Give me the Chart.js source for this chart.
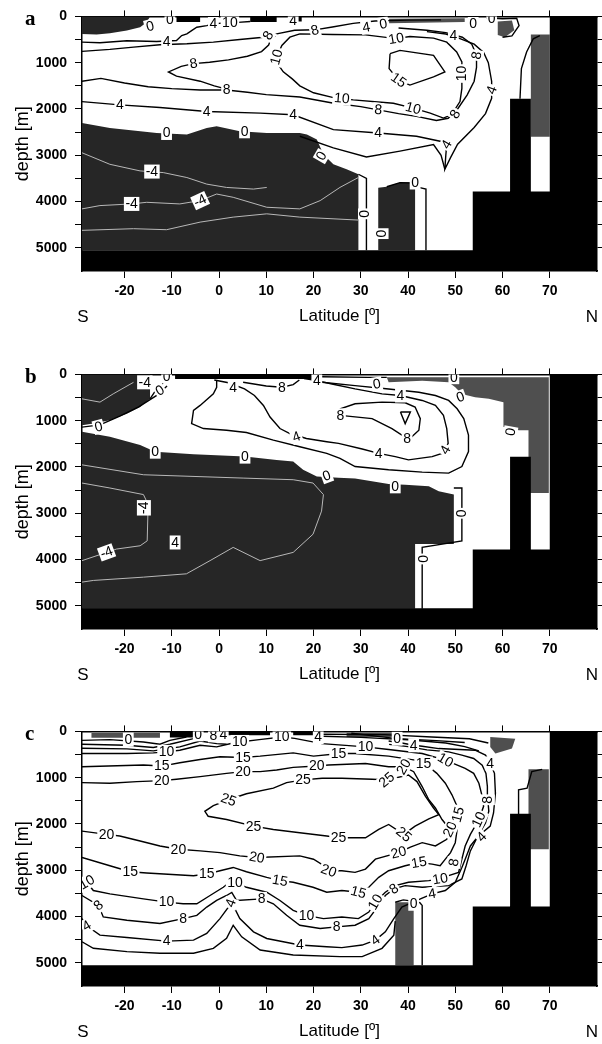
<!DOCTYPE html>
<html>
<head>
<meta charset="utf-8">
<script src="https://cdn.jsdelivr.net/npm/chart.js@4.4.1/dist/chart.umd.min.js"></script>
<style>
  html, body { margin: 0; padding: 0; background: #fff; width: 602px; height: 1044px; overflow: hidden; }
  .panel { position: absolute; left: 0; width: 602px; height: 358px; }
</style>
</head>
<body>
<div class="panel" style="top:0px"><canvas id="chartA" width="602" height="358"></canvas></div>
<div class="panel" style="top:358px"><canvas id="chartB" width="602" height="358"></canvas></div>
<div class="panel" style="top:715px"><canvas id="chartC" width="602" height="358"></canvas></div>
<script>
// axes
const latTicks = [-20, -10, 0, 10, 20, 30, 40, 50, 60, 70];
const depthTicks = [0, 500, 1000, 1500, 2000, 2500, 3000, 3500, 4000, 4500, 5000];
const latRange = [-29, 80];
const depthRange = [0, 5500];

// sea floor / land, [lat, depth]
const seaFloor = [[-29,5050],[53.7,5050],[53.7,3780],[61.6,3780],[61.6,1780],[66,1780],[66,3780],[70,3780],[70,0],[80,0],[80,5500],[-29,5500]];

// ---------- panel a ----------
const aDark = [
  [[-29,0],[-14.6,0],[-15.3,128],[-16.7,235],[-19.5,306],[-23.1,363],[-25.9,392],[-29,378]],
  [[-29,2303],[-23.1,2410],[-13.2,2518],[-6.8,2553],[-2.6,2410],[-0.5,2375],[4.4,2482],[10.1,2518],[17.1,2518],[18.6,2553],[20.7,2660],[22.1,2981],[24.2,3195],[27,3302],[29.5,3410],[29.5,5050],[-29,5050]],
  [[33.7,3700],[35.5,3680],[38.3,3590],[41.5,3590],[41.5,5050],[33.7,5050]]
];
const aMid = [
  [[66,390],[70,390],[70,2600],[66,2600]],
  [[59,110],[62,90],[62.5,300],[60.5,450],[59,400]],
  [[36,50],[52,40],[52,120],[36,150]]
];
const aBars = [
  [[-9,0],[-4,0],[-4,120],[-9,120]],
  [[6.6,0],[12.2,0],[12.2,120],[6.6,120]],
  [[15.7,0],[17.5,0],[17.5,110],[15.7,110]]
];
const aLines = [
  [[-29,556],[-25.2,570],[-19.5,527],[-13.2,542],[-9,520],[-7.9,413],[-6.8,378],[-5.8,306],[-4.7,235],[-2.6,200],[-1.2,164],[1,140],[4,128],[6.6,110]],
  [[-29,756],[-23.1,713],[-18.1,663],[-12.5,613],[-6.8,592],[-1.2,556],[4.4,499],[9.4,449],[12.2,378],[16,300],[20.3,290],[24,230],[28.4,150],[33,100],[40,80],[47,75]],
  [[12,420],[11,480],[10.5,620],[9,760],[6,860],[2,940],[-2,990],[-5.4,1020],[-8,1080],[-10.7,1200],[-9,1290],[-4,1400],[-1,1500],[1.6,1570]],
  [[-29,1400],[-25,1340],[-20,1440],[-15,1520],[-10,1560],[-4,1590],[1.6,1590],[6,1640],[10,1690],[17.1,1740],[24,1870],[30,1950],[33.7,2018],[38,2100],[41.8,2160],[46,2250],[48.5,2200],[50.5,2000],[52.5,1700],[54,1400],[54.5,1100],[54.5,841],[53.5,600],[51.5,450],[48,350],[44,300],[38,250]],
  [[17.1,378],[15,449],[13.3,627],[12.2,877],[12.6,1055],[13.6,1198],[15.5,1350],[17.1,1500],[20,1650],[24.2,1754],[28.4,1804],[36.9,1876],[41.1,1983],[44.7,2090],[47.5,2197],[49.2,2125],[51,1840],[51.4,1555],[51.4,1234],[51.4,984],[50.3,770],[48.2,556],[45.4,470],[40.4,435],[37.5,480],[31,400],[24,390],[17.1,378]],
  [[36.2,806],[38.3,734],[45.4,841],[47.8,1198],[45.4,1305],[40.4,1483],[38,1376],[36,1127],[36.2,806]],
  [[-29,1840],[-21,1911],[-12.5,1968],[-2.6,2054],[8.7,2090],[15.7,2125],[24.2,2446],[33.7,2518],[41.8,2589],[46.8,2696],[48.2,2767],[48,3000],[47.8,3302],[49,3050],[50.5,2760],[54,2400],[56.4,2100],[57.7,1769],[57.7,1400],[57,1000],[56,780],[54,600],[51,480],[48,380],[44,330]],
  [[17.1,2589],[24.2,2839],[31.2,3038],[38.3,2910],[45.4,2767],[47,3000],[47.8,3302]],
  [[29.5,3410],[31.2,3500],[31.2,5050]],
  [[35.5,3680],[38.3,3590],[41,3600],[42.5,3700],[43.8,3730],[43.8,5050]],
  [[63.7,1780],[64,1127],[65.1,770],[66.5,485],[67.9,413]],
  [[56.5,30],[60,50],[63,40],[63.5,200],[62,420],[60,450]]
];
const aThin = [
  [[-29,2946],[-23.1,3195],[-16.7,3338],[-11.8,3374],[-6.8,3481],[-2.6,3623],[1.6,3695],[7.3,3730],[10.1,3695]],
  [[-29,4158],[-25.2,4087],[-18.5,4051],[-15.3,4016],[-8.3,4051],[-4,3980],[-0.5,3837],[3,3908],[10.1,4123],[17.1,4158],[21.4,3980],[25.6,3694],[29.5,3480]],
  [[-29,4622],[-18.1,4586],[-11.1,4608],[-4,4444],[3,4336],[10.1,4265],[17.1,4336],[29.5,4400]]
];
const aLabels = [
  [-14.6,214,'0',-15],[-10.4,60,'0',0],[-11.1,556,'4',0],[-1.2,164,'4',0],[2.3,128,'10',0],[15.7,92,'4',0],
  [10.4,413,'8',-60],[20.3,300,'8',-15],[31.2,235,'4',-10],[34.8,164,'0',-10],[53.8,164,'0',0],[57.7,40,'0',0],
  [49.6,413,'4',0],[37.5,480,'10',-10],[-5.4,1020,'8',-10],[12.2,877,'10',-75],[38,1376,'15',35],
  [54.5,841,'8',-80],[51.4,1234,'10',-90],[57.7,1590,'4',-70],[1.6,1590,'8',0],[26,1769,'10',5],
  [33.7,2018,'8',5],[41.1,1983,'10',15],[50,2110,'8',-60],[-21,1911,'4',0],[-2.6,2054,'4',0],[15.7,2125,'4',0],
  [33.7,2518,'4',0],[48.2,2767,'4',-60],[-11.1,2518,'0',0],[5.4,2482,'0',0],[21.7,3017,'0',-60],
  [30.9,4265,'0',-90],[34.4,4693,'0',-90],[41.5,3588,'0',0],
  [-14.2,3352,'-4',0],[-18.5,4051,'-4',0],[-4,3980,'-4',-25]
];

// ---------- panel b ----------
const bDark = [
  [[-29,0],[-14.6,0],[-14.6,527],[-16.7,706],[-19.5,849],[-23.1,991],[-26.6,1063],[-29,1100]],
  [[-29,1241],[-23.1,1348],[-16.7,1526],[-13.5,1669],[-5.4,1726],[5.5,1776],[12.2,1847],[15.7,1883],[17.8,2061],[20.7,2204],[25.3,2230],[28.8,2250],[35.9,2368],[39.4,2382],[44.4,2418],[46.5,2525],[49.7,2596],[49.7,3666],[41.5,3666],[41.5,5060],[-29,5060]]
];
const bMid = [
  [[35.5,60],[69.8,60],[69.8,2561],[65.5,2561],[65.5,1205],[63.4,1205],[62,1134],[60.2,1134],[60.2,599],[57.1,528],[54.2,492],[51.4,421],[50,278],[48.6,171],[43,135],[35.9,171]]
];
const bBars = [
  [[-9.3,0],[19.9,0],[19.9,100],[-9.3,100]]
];
const bLines = [
  [[-1,120],[2,180],[5.4,314],[7.5,456],[9.4,670],[10.8,920],[12.9,1170],[15,1277],[18.5,1384],[22.8,1455],[25.3,1491],[30.3,1612],[33.8,1705],[37.3,1776],[40.1,1847],[45.1,1776],[47.2,1705],[48.5,1491],[48.2,1170],[47.5,884],[45.8,670],[43,563],[38.4,456],[34.5,421],[28.8,314],[23.9,207],[20.7,135],[18,90]],
  [[-0.5,120],[-0.5,278],[-1.2,421],[-4,670],[-5.4,777],[-5.8,1063],[-3.3,1170],[1.6,1205],[5.8,1255],[11.5,1419],[17.1,1562],[22.8,1705],[25.6,1812],[28.8,1990],[35.9,2061],[43,2111],[48.6,2133],[51.4,1990],[52.8,1669],[52.8,1312],[51.8,956],[50.4,742],[48.6,563],[45.8,456],[42.3,385],[35.9,314],[28.8,242],[21.8,171]],
  [[25.7,884],[32.4,956],[36.6,1170],[38.7,1312],[40.8,1348],[42.3,1205],[42.6,956],[41.5,706],[39.4,613],[34.5,599],[28.8,634],[25.7,742],[25.7,884]],
  [[5.1,170],[10,250],[13.3,278],[15.7,220],[17,120]],
  [[38.4,813],[40.5,813],[39.4,1063],[38.4,813]],
  [[49.7,2454],[51.4,2454],[51.4,3595],[43,3737],[43,5060]],
  [[21.8,50],[31.5,64],[35.5,64]],
  [[-14.6,527],[-13.2,314],[-12,200],[-11,60]],
  [[-11,250],[-13.1,449],[-17,700],[-21,900],[-25.2,1091],[-29,1140]]
];
const bThin = [
  [[-29,1954],[-16,2168],[5.1,2240],[15.7,2275],[19.9,2347],[22.1,2596],[21.7,2953],[19.9,3452],[15.7,3845],[8.7,4023],[3,3737],[-1.9,4023],[-6.9,4308],[-16,4380],[-26.6,4451],[-29,4487]],
  [[-29,2347],[-23.1,2454],[-16,2596],[-15,2810],[-15.2,3595],[-16.7,3702],[-21.7,3773],[-29,4023]],
  [[-29,528],[-25.2,599],[-22.4,421],[-18.1,171]]
];
const bLabels = [
  [-15.7,171,'-4',0],[-11.1,40,'0',0],[-12.5,349,'0',-30],[-25.5,1134,'0',-15],[-13.5,1669,'0',0],[5.5,1776,'0',0],
  [22.8,2190,'0',-20],[37.3,2418,'0',0],[51.4,3000,'0',-90],[43.3,3987,'0',-90],
  [-15.9,2882,'-4',-90],[-23.8,3845,'-4',-20],[-9.3,3631,'4',0],
  [3,278,'4',0],[13.3,278,'8',0],[20.7,135,'4',0],[16.4,1348,'4',-20],[33.8,1705,'4',0],
  [25.7,884,'8',0],[39.8,1384,'8',0],[47.9,1633,'4',-60],[38.4,456,'4',0],
  [33.4,207,'0',-10],[51.1,492,'0',-20],[49.7,60,'0',0],[61.7,1241,'0',-80]
];

// ---------- panel c ----------
const cDark = [];
const cMid = [
  [[-27,35],[-12.5,35],[-12.5,135],[-27,135]],
  [[27,30],[37,30],[37,120],[27,120]],
  [[57.4,121],[62.7,157],[62,371],[58.5,478],[57.4,335]],
  [[65.5,820],[69.8,820],[69.8,2547],[65.5,2547]],
  [[37.3,3690],[41.2,3690],[41.2,5050],[37.3,5050]]
];
const cBars = [
  [[-10.4,0],[-5.4,0],[-5.4,130],[-10.4,130]],
  [[-0.5,0],[10.8,0],[10.8,85],[-0.5,85]],
  [[15.7,0],[19.9,0],[19.9,85],[15.7,85]]
];
const cLines = [
  [[-29,193],[-23.1,178],[-16,228],[-12.5,278],[-10.4,193],[-6.9,121]],
  [[-29,278],[-19.5,300],[-13.9,349],[-10.4,278],[-5.4,157]],
  [[-29,364],[-19.5,378],[-13.9,421],[-8.3,335],[-4,207],[-0.5,264],[1.6,278]],
  [[-29,478],[-19.5,478],[-13.9,463],[-11.1,442],[-8.3,406],[-4,300],[-0.5,335],[3,250],[4.4,228],[8.5,178],[13.3,121],[16,150],[21.8,264],[31,335],[35.9,392],[43,478],[47.9,621],[52.1,799],[53.9,906],[55,1120],[55.7,1405],[56,1619],[55,1904],[53.2,2225],[52.1,2475],[51.4,2760],[50.7,3046],[48.6,3117],[46.8,3188],[44.4,3224],[40.1,3260],[37.3,3331],[35.2,3474],[33.1,3688],[31.7,3902],[29.5,4044],[26,4009],[22.1,4044],[18.5,3973],[15.7,3866],[12.9,3652],[10.1,3474],[5.8,3367],[2.7,3220],[0.9,3367],[-1.9,3545],[-4.7,3723],[-7.6,3723],[-11.1,3688],[-16,3617],[-23.1,3510],[-26.6,3438],[-28,3260],[-29,3188]],
  [[-29,763],[-16,727],[-12.1,749],[-8.3,678],[-4,606],[0.2,549],[5.1,563],[8.7,535],[15.7,464],[20,535],[25.6,478],[28.8,478],[35.9,535],[41.5,621],[43.3,692],[44.4,763],[46.1,906],[47.9,1120],[49.3,1370],[50.4,1619],[50.7,1904],[50,2404],[49,2618],[47.9,2760],[46.8,2903],[45.1,2867],[42.3,2832],[39.4,2903],[35.9,3010],[33.8,3153],[31.7,3367],[29.5,3474],[26,3438],[22.8,3474],[19.9,3367],[15.7,3260],[12.9,3224],[10.1,3153],[5.8,3032],[3,2939],[0.2,3010],[-2.6,3082],[-5.4,3117],[-15.3,3060],[-18.8,3032],[-23.1,2903],[-29,2725]],
  [[-29,1106],[-23.1,1120],[-17.4,1084],[-12.1,1063],[-9,1034],[-4,977],[1.6,906],[5.1,870],[8.7,870],[12.2,834],[15.7,777],[20.7,749],[23.2,727],[31,692],[35.9,763],[39.1,763],[41.2,870],[43,1191],[44.4,1476],[45.8,1655],[47.2,1904],[48.9,2118],[48.2,2332],[45.8,2475],[43,2404],[40.5,2500],[38,2618],[33.1,2760],[31,2974],[28.8,3046],[26,3010],[23.2,3010],[22.8,2939],[20,2761],[17.1,2689],[8,2725],[4.4,2689],[0.2,2618],[-4,2582],[-8.6,2547],[-12.5,2475],[-16.7,2368],[-21,2261],[-23.8,2225],[-29,2154]],
  [[21.8,1013],[26,1013],[32.4,1034],[35.5,1048],[40.1,941],[41.9,1084],[43.7,1405],[45.4,1655],[46.5,1798],[44.4,1890],[41.5,2047],[39.1,2225],[35.9,2011],[33.8,2118],[31,2297],[25.3,2297],[22.8,2261],[17.1,2190],[11.5,2118],[7.3,2047],[1.6,1904],[-2.3,1833],[-3,1726],[-1.2,1605],[2,1477],[5.8,1348],[11.5,1227],[14.3,1106],[17.8,1048],[21.8,1013]],
  [[-29,3545],[-25.5,3759],[-24.5,4009],[-19.5,4080],[-12.5,4151],[-7.6,4044],[-4.7,3973],[-2.6,3795],[-0.5,3652],[1.6,3545],[2.7,3480],[3.7,3652],[9,3617],[11.5,3723],[14.3,3973],[17.1,4187],[21.4,4258],[24.9,4223],[28.8,4187],[31.7,4044],[33.8,3759],[35.2,3545],[37,3402],[39.4,3331],[43,3367],[48.6,3331],[51.4,3188],[52.3,2903],[53.2,2582],[54.6,2297],[56.4,1976],[57.1,1726],[56.9,1477],[56.8,1191],[56.5,906],[55.7,728],[53.9,585],[51.4,513],[48.6,442],[44,400],[40,330],[36,280]],
  [[-29,4044],[-28,4201],[-25.2,4401],[-19.5,4451],[-11.1,4530],[-5.4,4508],[-2.6,4365],[0.2,4044],[2.7,3700],[4.4,4044],[7.3,4330],[10.1,4473],[17.1,4615],[22.8,4651],[26,4672],[30.3,4615],[33.1,4508],[35.2,4330],[37,4044],[38.7,3795],[43,3602],[45.1,3510],[47.9,3438],[50,3260],[51.4,2939],[52.1,2760],[53.2,2475],[54.9,2261],[57.4,2047],[58.1,1762],[58.5,1334],[58.3,906],[57.4,692],[56.4,513],[54.2,406],[46.5,371],[43,321],[41.2,300],[38.7,250],[35.9,207]],
  [[-29,4544],[-26.6,4686],[-19.5,4758],[-12.5,4793],[-5.4,4793],[-1.2,4686],[1.6,4472],[3,4187],[4.8,4437],[8.7,4722],[15.7,4829],[25.6,4865],[30.3,4865],[34.5,4686],[37,4401],[37.3,4100]],
  [[37.3,3690],[39,3640],[40.5,3660],[42.5,3700],[43,3759],[43,5050]],
  [[63.4,1833],[63.4,1263],[65.2,1227],[66.2,870],[68.4,820]],
  [[20,100],[30,130],[40,180],[48,250],[52,330],[55,420]],
  [[22,60],[35,70],[45,120],[53,160],[57,250]],
  [[28,40],[37.7,157],[46,200],[52,240]]
];
const cThin = [];
const cLabels = [
  [-19.2,178,'0',0],[-4.4,64,'0',0],[-1.2,85,'8',0],[0.9,60,'4',0],[-11.1,442,'10',0],
  [4.4,228,'10',0],[13.3,121,'10',0],[21,121,'4',0],
  [-12.1,749,'15',0],[5.1,563,'15',0],[25.3,478,'15',0],
  [-12.1,1063,'20',0],[5.1,870,'20',0],[20.7,749,'20',0],[39.1,763,'20',-60],
  [17.8,1048,'25',0],[2,1477,'25',20],[7.3,2047,'25',0],[25.3,2297,'25',0],[39.1,2225,'25',40],[35.5,1048,'25',-40],
  [-23.8,2225,'20',0],[-8.6,2547,'20',0],[8,2725,'20',10],[23.2,3010,'20',20],[38,2618,'20',-15],[48.9,2118,'20',-65],
  [-18.8,3032,'15',0],[-2.6,3082,'15',0],[12.9,3224,'15',10],[29.5,3474,'15',15],[42.3,2832,'15',-10],[50.6,1800,'15',-75],
  [43.3,692,'15',0],[31,335,'10',0],[47.9,621,'10',30],[37.7,157,'0',0],[41.2,300,'4',0],
  [57.4,692,'4',0],[56.9,1477,'8',-90],[55,1904,'10',-65],[55.6,2280,'4',-45],[49.7,2832,'8',-80],
  [46.8,3188,'10',-10],[33.1,3688,'10',-60],[3.4,3274,'10',0],[18.5,3973,'10',0],[-11.1,3688,'10',0],[-28,3260,'10',-30],
  [-25.5,3759,'8',-40],[-7.6,4044,'8',0],[9,3617,'8',0],[24.9,4223,'8',0],[37,3402,'8',-35],
  [-28,4201,'4',-30],[-11.1,4530,'4',0],[2.5,3709,'4',-70],[17.1,4615,'4',0],[33.1,4508,'4',-35],[45.1,3510,'4',-10],
  [41.2,3723,'0',0]
];

const DARK = '#262626';
const MID = '#4f4f4f';
const FONT = '"Liberation Sans", Arial, Helvetica, sans-serif';

function toXY(points) {
  return points.map(p => ({ x: p[0], y: p[1] }));
}

function areaSet(points, color, order) {
  return { data: toXY(points), fill: 'shape', backgroundColor: color, borderWidth: 0, pointRadius: 0, order };
}

function lineSet(points, color, width, order) {
  return { data: toXY(points), fill: false, borderColor: color, borderWidth: width, pointRadius: 0, tension: 0, order };
}

function decorPlugin(letter, labels) {
  return {
    id: 'decor' + letter,
    afterDatasetsDraw(chart) {
      const { ctx, chartArea, scales } = chart;
      ctx.save();
      ctx.beginPath();
      ctx.rect(chartArea.left, chartArea.top, chartArea.width, chartArea.height);
      ctx.clip();
      ctx.font = '14px ' + FONT;
      ctx.textAlign = 'center';
      ctx.textBaseline = 'middle';
      for (const [lat, depth, text, angle] of labels) {
        const px = scales.x.getPixelForValue(lat);
        const py = scales.y.getPixelForValue(depth);
        ctx.save();
        ctx.translate(px, py);
        ctx.rotate(angle * Math.PI / 180);
        const w = ctx.measureText(text).width + 3;
        ctx.fillStyle = '#fff';
        ctx.fillRect(-w / 2, -7, w, 14);
        ctx.fillStyle = '#000';
        ctx.fillText(text, 0, 0.5);
        ctx.restore();
      }
      ctx.restore();
    },
    afterDraw(chart) {
      const ctx = chart.ctx;
      ctx.save();
      ctx.fillStyle = '#000';
      ctx.font = 'bold 21px "Liberation Serif", "Times New Roman", serif';
      ctx.textAlign = 'left';
      ctx.textBaseline = 'alphabetic';
      ctx.fillText(letter, 25, 25);
      ctx.font = '17px ' + FONT;
      ctx.textAlign = 'center';
      ctx.textBaseline = 'middle';
      ctx.fillText('S', 83, 317);
      ctx.fillText('N', 592, 317);
      ctx.restore();
    }
  };
}

function setTicks(values) {
  return (scale) => { scale.ticks = values.map(v => ({ value: v })); };
}

function makeChart(id, letter, dark, mid, bars, lines, thin, labels) {
  const datasets = [];
  dark.forEach(p => datasets.push(areaSet(p, DARK, 6)));
  mid.forEach(p => datasets.push(areaSet(p, MID, 5)));
  thin.forEach(p => datasets.push(lineSet(p, '#b8b8b8', 1, 4)));
  lines.forEach(p => datasets.push(lineSet(p, '#000', 1.4, 3)));
  bars.forEach(p => datasets.push(areaSet(p, '#000', 2)));
  datasets.push(areaSet(seaFloor, '#000', 1));

  const gridOpts = (len) => ({ drawOnChartArea: false, drawTicks: true, tickLength: len, color: '#000', lineWidth: 1 });
  const borderOpts = { display: true, color: '#000', width: 1.5 };

  new Chart(document.getElementById(id), {
    type: 'line',
    data: { datasets },
    options: {
      responsive: false,
      devicePixelRatio: 1,
      animation: false,
      events: [],
      layout: { padding: 0 },
      plugins: { legend: { display: false }, tooltip: { enabled: false } },
      scales: {
        x: {
          type: 'linear', position: 'bottom', min: latRange[0], max: latRange[1],
          afterBuildTicks: setTicks(latTicks),
          afterFit: (s) => { s.height = 87; },
          grid: gridOpts(7), border: borderOpts,
          ticks: { color: '#000', font: { family: FONT, size: 14, weight: 'bold' }, padding: 5, maxRotation: 0, autoSkip: false, callback: (v) => String(v) },
          title: { display: true, text: 'Latitude [º]', color: '#000', font: { family: FONT, size: 17 }, padding: { top: 4, bottom: 31 } }
        },
        x2: {
          type: 'linear', position: 'top', min: latRange[0], max: latRange[1],
          afterBuildTicks: setTicks(latTicks),
          afterFit: (s) => { s.height = 14; },
          grid: gridOpts(6), border: borderOpts,
          ticks: { display: false }
        },
        y: {
          type: 'linear', position: 'left', reverse: true, min: depthRange[0], max: depthRange[1],
          afterBuildTicks: setTicks(depthTicks),
          afterFit: (s) => { s.width = 82; },
          grid: gridOpts(7), border: borderOpts,
          ticks: { color: '#000', font: { family: FONT, size: 14, weight: 'bold' }, padding: 8, autoSkip: false, callback: (v) => (v % 1000 === 0 ? String(v) : '') },
          title: { display: true, text: 'depth [m]', color: '#000', font: { family: FONT, size: 18 }, padding: { top: 12, bottom: 0 } }
        },
        y2: {
          type: 'linear', position: 'right', reverse: true, min: depthRange[0], max: depthRange[1],
          afterBuildTicks: setTicks(depthTicks),
          afterFit: (s) => { s.width = 5; },
          grid: gridOpts(5), border: borderOpts,
          ticks: { display: false }
        }
      }
    },
    plugins: [decorPlugin(letter, labels)]
  });
}

makeChart('chartA', 'a', aDark, aMid, aBars, aLines, aThin, aLabels);
makeChart('chartB', 'b', bDark, bMid, bBars, bLines, bThin, bLabels);
makeChart('chartC', 'c', cDark, cMid, cBars, cLines, cThin, cLabels);
</script>
</body>
</html>
